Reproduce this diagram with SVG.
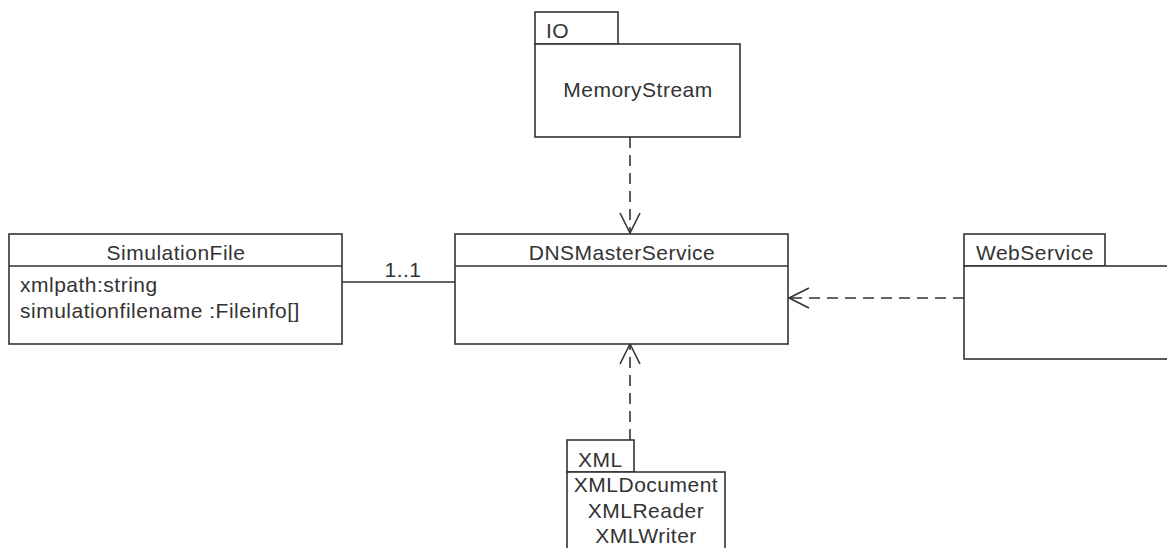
<svg xmlns="http://www.w3.org/2000/svg" width="1167" height="548" viewBox="0 0 1167 548">
<style>
.box{fill:#fff;stroke:#333;stroke-width:1.6}
.ln{fill:none;stroke:#333;stroke-width:1.6}
.dash{fill:none;stroke:#333;stroke-width:1.6;stroke-dasharray:11 7}
text{font-family:"Liberation Sans",Arial,sans-serif;font-size:21px;fill:#333;letter-spacing:0.5px}
.c{text-anchor:middle}
</style>
<defs>
<marker id="open" markerUnits="userSpaceOnUse" markerWidth="24" markerHeight="24" viewBox="-22 -12 24 24" refX="0" refY="0" orient="auto">
<path d="M-20,-10 L0,0 L-20,10" fill="none" stroke="#333" stroke-width="1.6"/>
</marker>
</defs>
<rect width="1167" height="548" fill="#fff"/>
<g id="connectors">
<path class="dash" d="M630,137 V233" marker-end="url(#open)"/>
<path class="dash" d="M964,298 H789" marker-end="url(#open)"/>
<path class="dash" d="M630,440 V344" marker-end="url(#open)"/>
<path class="ln" d="M342,282 H455"/>
<text x="403" y="277" class="c">1..1</text>
</g>
<g id="IO">
<rect class="box" x="535" y="12" width="83" height="32"/>
<rect class="box" x="535" y="44" width="205" height="93"/>
<text x="546" y="38">IO</text>
<text x="638" y="97" class="c">MemoryStream</text>
</g>
<g id="SimulationFile">
<rect class="box" x="9" y="234" width="333" height="110"/>
<path class="ln" d="M9,266 H342"/>
<text x="176" y="260" class="c">SimulationFile</text>
<text x="20" y="292">xmlpath:string</text>
<text x="20" y="318">simulationfilename :Fileinfo[]</text>
</g>
<g id="DNSMasterService">
<rect class="box" x="455" y="234" width="333" height="110"/>
<path class="ln" d="M455,266 H788"/>
<text x="622" y="260" class="c">DNSMasterService</text>
</g>
<g id="WebService">
<rect class="box" x="964" y="234" width="141" height="32"/>
<rect class="box" x="964" y="266" width="220" height="93"/>
<text x="976" y="260">WebService</text>
</g>
<g id="XML">
<rect class="box" x="567" y="440" width="67" height="32"/>
<rect class="box" x="567" y="472" width="158" height="90"/>
<text x="578" y="467">XML</text>
<text x="646" y="492" class="c">XMLDocument</text>
<text x="646" y="518" class="c">XMLReader</text>
<text x="646" y="543" class="c">XMLWriter</text>
</g>
</svg>
